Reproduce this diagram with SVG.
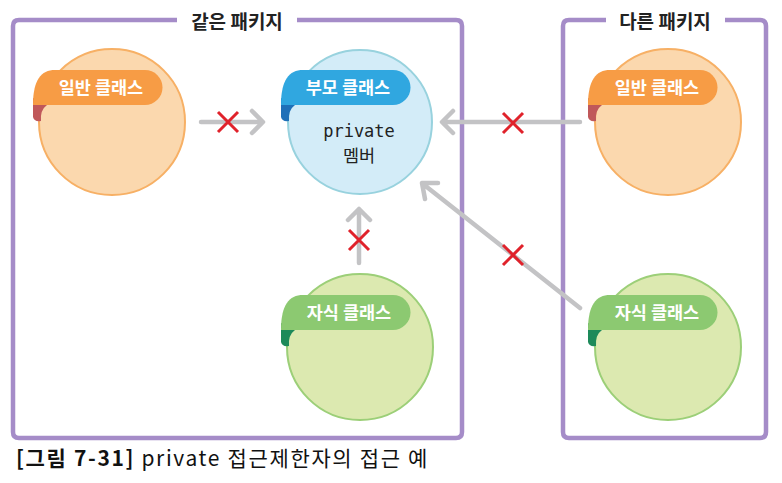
<svg xmlns="http://www.w3.org/2000/svg" width="782" height="483" viewBox="0 0 782 483">
<defs>
<style>
.pkg{fill:none;stroke:#a58cc8;stroke-width:4.5}
.pkgt{font-family:"Noto Sans CJK KR","Noto Sans",sans-serif;font-weight:bold;font-size:19px;fill:#222;text-anchor:middle}
.lbl{font-family:"Noto Sans CJK KR","Noto Sans",sans-serif;font-weight:bold;font-size:17.5px;fill:#fff;text-anchor:middle}
.mono{font-family:"DejaVu Sans Mono","Liberation Mono",monospace;font-size:17px;fill:#222;text-anchor:middle}
.kr{font-family:"Noto Sans CJK KR",sans-serif;font-size:17.5px;fill:#222;text-anchor:middle}
.orangeC{fill:#fbd8ae;stroke:#f7b065;stroke-width:2}
.blueC{fill:#d3ecf8;stroke:#98d2de;stroke-width:2}
.greenC{fill:#dce9b0;stroke:#9ccf78;stroke-width:2}
.conn{fill:none;stroke:#c3c3c5;stroke-width:4.5;stroke-linecap:round;stroke-linejoin:round}
.x{stroke:#e0222b;stroke-width:3;stroke-linecap:butt}
.cap{font-family:"Noto Sans CJK KR","Noto Sans",sans-serif;font-size:21px;letter-spacing:1.65px;fill:#111}
</style>
<path id="rib" d="M0,35 C0,10 8,0 22,0 H112 A17.5,17.5 0 0 1 112,35 Z"/>
<path id="fold" d="M0,28 L0,47 Q1,52 8,51 Q7,40 14,35 Z"/>
</defs>
<rect width="782" height="483" fill="#fff"/>

<g id="pkg-same">
<path class="pkg" d="M177,20 H19 Q13,20 13,26 V432 Q13,438 19,438 H456 Q462,438 462,432 V26 Q462,20 456,20 H297"/>
<text class="pkgt" x="237" y="29">같은 패키지</text>
</g>
<g id="pkg-other">
<path class="pkg" d="M606,20 H569 Q563,20 563,26 V432 Q563,438 569,438 H760 Q766,438 766,432 V26 Q766,20 760,20 H725"/>
<text class="pkgt" x="665" y="29">다른 패키지</text>
</g>

<g id="connectors">
<path class="conn" d="M201,122 H262 M252,111 L263,122 L252,133"/>
<path class="conn" d="M580,122 H443 M453,111 L442,122 L453,133"/>
<path class="conn" d="M359,263 V209 M348,220 L359,209 L370,220"/>
<path class="conn" d="M580,308 L423,184 M425,199 L422,183 L438,183"/>
<g class="x">
<path d="M218,112 L238,132 M238,112 L218,132"/>
<path d="M503,113 L523,133 M523,113 L503,133"/>
<path d="M349,230 L369,250 M369,230 L349,250"/>
<path d="M503,245 L523,265 M523,245 L503,265"/>
</g>
</g>

<g id="node-general-same">
<circle class="orangeC" cx="112" cy="122" r="73"/>
<use href="#fold" x="33" y="70" fill="#c0585a"/>
<use href="#rib" x="33" y="70" fill="#f79c45"/>
<text class="lbl" x="101" y="94">일반 클래스</text>
</g>

<g id="node-parent">
<circle class="blueC" cx="360" cy="122" r="72"/>
<use href="#fold" x="281" y="70" fill="#1f70b8"/>
<use href="#rib" x="281" y="70" fill="#30a7e0"/>
<text class="lbl" x="348" y="94">부모 클래스</text>
<text class="mono" x="359" y="137">private</text>
<text class="kr" x="359" y="162">멤버</text>
</g>

<g id="node-general-other">
<circle class="orangeC" cx="668" cy="122" r="73"/>
<use href="#fold" x="588" y="70" fill="#c0585a"/>
<use href="#rib" x="588" y="70" fill="#f79c45"/>
<text class="lbl" x="657" y="94">일반 클래스</text>
</g>

<g id="node-child-same">
<circle class="greenC" cx="360" cy="347" r="73"/>
<use href="#fold" x="281" y="295" fill="#1d8a5a"/>
<use href="#rib" x="281" y="295" fill="#8cc971"/>
<text class="lbl" x="349" y="319">자식 클래스</text>
</g>

<g id="node-child-other">
<circle class="greenC" cx="668" cy="347" r="73"/>
<use href="#fold" x="588" y="295" fill="#1d8a5a"/>
<use href="#rib" x="588" y="295" fill="#8cc971"/>
<text class="lbl" x="657" y="319">자식 클래스</text>
</g>

<text class="cap" x="16" y="466"><tspan font-weight="bold">[그림 7-31]</tspan> private 접근제한자의 접근 예</text>
</svg>
